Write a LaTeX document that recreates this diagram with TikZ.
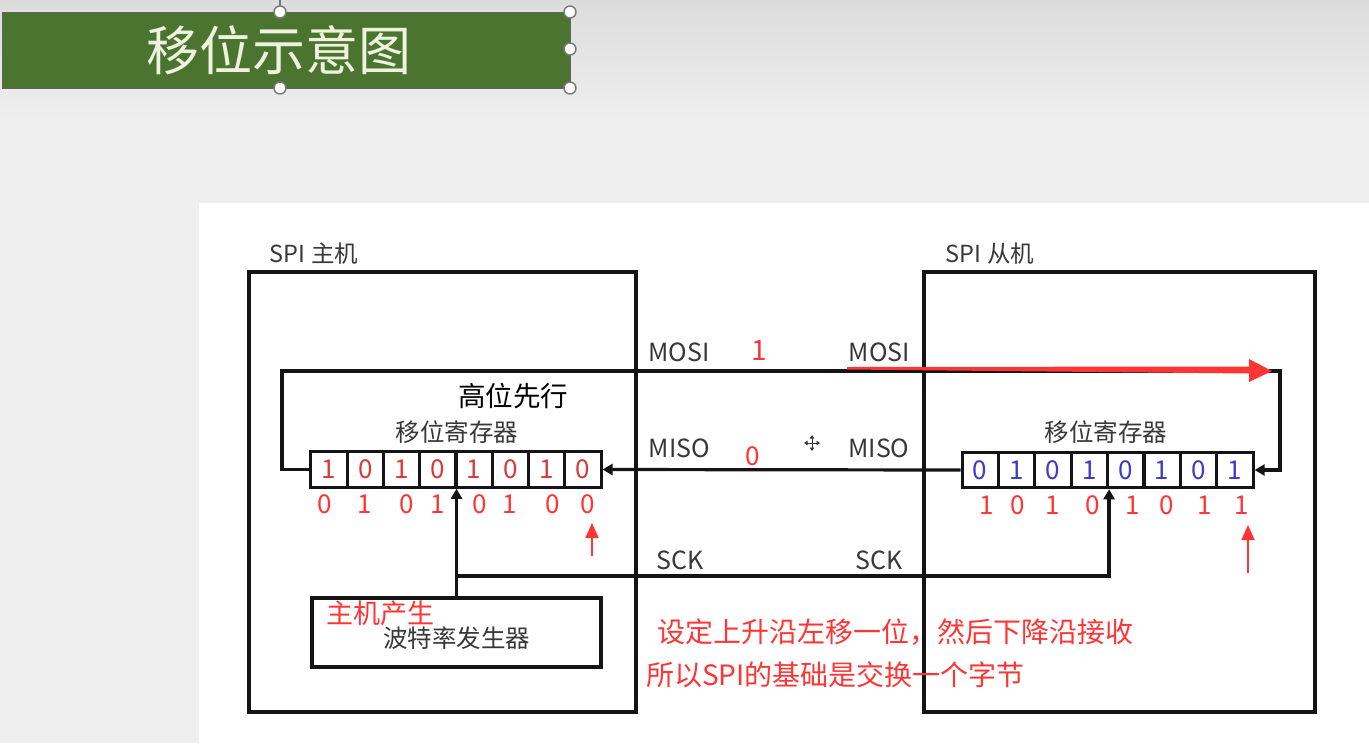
\documentclass[tikz,border=0pt]{standalone}
\usepackage{fontspec}
\setmainfont{Noto Sans CJK SC}
\usetikzlibrary{arrows.meta,calc}
\definecolor{bggray}{HTML}{EFEFEF}
\definecolor{bgtop}{HTML}{DCDCDC}
\definecolor{titlegreen}{HTML}{4C7431}
\definecolor{titletext}{HTML}{EEF3DE}
\definecolor{labelgray}{HTML}{383838}
\definecolor{linecol}{HTML}{141414}
\definecolor{redbit}{HTML}{D83A3A}
\definecolor{bluebit}{HTML}{3C3CC4}
\definecolor{annot}{HTML}{FF3535}
\definecolor{handlegray}{HTML}{7A7A7A}
\tikzset{
  lbl/.style={text=labelgray, inner sep=0pt, font=\fontsize{25}{28}\selectfont},
  wire/.style={draw=linecol, line width=3.2pt},
  tip/.style={-{Triangle[length=10pt,width=11pt]}},
  cellbox/.style={draw=linecol, line width=3pt, minimum width=36.3pt, minimum height=35.5pt, inner sep=0pt, font=\fontsize{26}{28}\selectfont},
  annodigit/.style={text=annot, inner sep=0pt, font=\fontsize{26}{28}\selectfont},
  annotext/.style={text=annot, inner sep=0pt, font=\fontsize{28}{32}\selectfont},
  redarrow/.style={draw=annot, line width=1.8pt, -{Triangle[length=15pt,width=13pt]}},
  handle/.style={circle, fill=white, draw=handlegray, line width=1.4pt, minimum size=12pt, inner sep=0pt},
  hostbox/.style={draw=linecol, line width=3.2pt}
}
\begin{document}
\begin{tikzpicture}[x=1pt,y=-1pt]
\useasboundingbox (0,0) rectangle (1369,753);
% background
\fill[bggray] (0,0) rectangle (1369,753);
\shade[top color=bgtop, bottom color=bggray] (0,0) rectangle (1369,120);
\fill[white] (199,203) rectangle (1369,743);
\fill[white] (0,743) rectangle (1369,753);

% title bar
\draw[handlegray, line width=1.2pt] (280,0) -- (280,12);
\node[draw=handlegray!80!black, line width=0.8pt, fill=titlegreen, minimum width=568pt, minimum height=76pt, inner sep=0pt] (titlebar) at (286,50) {};
\node[text=titletext, inner sep=0pt, font=\fontsize{53}{56}\selectfont] (title) at (278.5,50) {移位示意图};
\node[handle] (h1) at (280,12) {};
\node[handle] (h2) at (570,12) {};
\node[handle] (h3) at (570,49) {};
\node[handle] (h4) at (280,88) {};
\node[handle] (h5) at (570,88) {};

% host boxes
\draw[hostbox] (249,272) rectangle (636,712);
\draw[hostbox] (924,272) rectangle (1315,712);
\node[lbl, font=\fontsize{23.5}{26}\selectfont] (spim) at (314,254) {SPI 主机};
\node[lbl, font=\fontsize{23.5}{26}\selectfont] (spis) at (990,254) {SPI 从机};

% registers
\foreach \b [count=\i] in {1,0,1,0,1,0,1,0}
  \node[cellbox, text=redbit] (m\i) at ({311+36.25*(\i-0.5)},469.5) {\b};
\foreach \b [count=\i] in {0,1,0,1,0,1,0,1}
  \node[cellbox, text=bluebit] (s\i) at ({962+36.4*(\i-0.5)},470) {\b};
\node[lbl, font=\fontsize{24.5}{27}\selectfont] (regm) at (457,432) {移位寄存器};
\node[lbl, font=\fontsize{24.5}{27}\selectfont] (regs) at (1106,432) {移位寄存器};

% baud generator
\node[draw=linecol, line width=3.2pt, minimum width=289pt, minimum height=69pt, inner sep=0pt] (baud) at (456.5,632.5) {};
\node[lbl, font=\fontsize{24.5}{27}\selectfont] (baudtxt) at (456.5,638) {波特率发生器};

% signal lines
\coordinate (mosil) at (282,371);
\coordinate (mosir) at (1280,371);
\draw[wire, tip] (m1.west) -| (mosil) -- (mosir) |- (s8.east);
\draw[wire, tip] (s1.west) -- (m8.east);
\coordinate (sckj) at (baud.north |- 0,576);
\draw[wire, tip] (baud.north) -- (baud.north |- m4.south);
\draw[wire, tip] (sckj) -| (s4.south east);

% signal labels
\node[lbl] (mosi1) at (679,352.5) {MOSI};
\node[lbl] (mosi2) at (879.5,352.5) {MOSI};
\node[lbl] (miso1) at (679.5,448.5) {MISO};
\node[lbl] (miso2) at (879,448.5) {MISO};
\node[lbl] (sck1) at (680,560) {SCK};
\node[lbl] (sck2) at (879,560) {SCK};
\node[text=black, inner sep=0pt, font=\fontsize{27.5}{30}\selectfont] (gaowei) at (513,396) {高位先行};

% annotations
\node[annodigit, font=\fontsize{28}{30}\selectfont] (bit1) at (759,351) {1};
\node[annodigit] (bit0) at (753,456) {0};
\foreach \x/\d [count=\i] in {325/0,365/1,407/0,438/1,480/0,510/1,553/0,588/0}
  \node[annodigit] (am\i) at (\x,504) {\d};
\foreach \x/\d [count=\i] in {987/1,1018/0,1053/1,1093/0,1133/1,1167/0,1205/1,1242/1}
  \node[annodigit] (as\i) at (\x,505) {\d};
\coordinate (ram1) at (592,556);
\coordinate (ram2) at (592,523);
\draw[redarrow] (ram1) -- (ram2);
\coordinate (ras1) at (1248,573);
\coordinate (ras2) at (1248,525);
\draw[redarrow] (ras1) -- (ras2);
\fill[annot] (847,367) -- (1249,366.5) -- (1249,359) -- (1272,371) -- (1249,382) -- (1249,373.5) -- (847,369.5) -- cycle;

\node[annotext, font=\fontsize{27}{30}\selectfont] (zhuji) at (380.5,613) {主机产生};
\node[annotext, anchor=west] (note1) at (657,632) {设定上升沿左移一位，然后下降沿接收};
\node[annotext, anchor=west] (note2) at (646,675) {所以SPI的基础是交换一个字节};

% move cursor icon
\coordinate (mv) at (812,443);
\foreach \dx/\dy in {1/0,-1/0,0/1,0/-1}
  \draw[labelgray, line width=1pt, -{Triangle[length=3.5pt,width=4.5pt]}] (mv) -- ++({8*\dx},{8*\dy});
\end{tikzpicture}
\end{document}
